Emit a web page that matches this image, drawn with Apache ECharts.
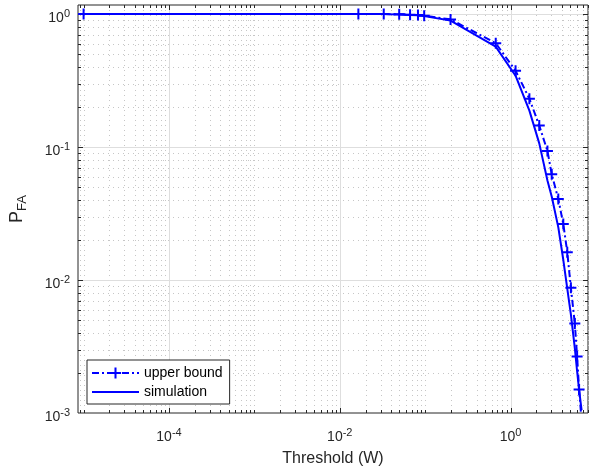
<!DOCTYPE html>
<html><head><meta charset="utf-8">
<script src="https://cdn.jsdelivr.net/npm/echarts@6/dist/echarts.min.js"></script>
<style>html,body{margin:0;padding:0;background:#fff}#c{width:591px;height:473px}</style>
</head><body><div id="c"></div>
<script>
// ---- data ----
const thresholds  = [1e-5, 0.0165, 0.0327, 0.0496, 0.0665, 0.0823, 0.0973, 0.198, 0.670, 1.143, 1.66, 2.166, 2.70, 3.03, 3.62, 4.14, 4.61, 5.08, 5.65, 6.01, 6.34, 6.78];
const upperBound  = [1.0, 1.0, 1.0, 0.995, 0.988, 0.983, 0.971, 0.912, 0.604, 0.375, 0.231, 0.145, 0.0935, 0.0625, 0.0406, 0.0264, 0.0162, 0.00873, 0.00472, 0.00266, 0.0015, 0.00088];
const simulation  = [1.0, 1.0, 0.999, 0.993, 0.985, 0.978, 0.965, 0.894, 0.569, 0.344, 0.188, 0.1066, 0.0561, 0.0425, 0.0249, 0.0142, 0.00862, 0.00551, 0.00307, 0.00206, 0.00149, 0.00105];
const seriesNames = ['upper bound', 'simulation'];
const xTickExponents = [-4, -2, 0];
const yTickExponents = [-3, -2, -1, 0];
const xRange = [8.6e-6, 8.06];
const yRange = [1e-3, 1.17];
const xLabel = 'Threshold (W)';

const FONT = 'Liberation Sans, Arial, Helvetica, sans-serif';
const AX = '#262626';
const BLUE = '#0000ff';
const plusPath = 'path://M4.5,0H6.5V11H4.5Z M0,4.5H11V6.5H0Z';

function expLabel(v, list) {
  const e = Math.log10(v), r = Math.round(e);
  if (Math.abs(e - r) > 1e-6 || list.indexOf(r) < 0) return '';
  return '{b|10}{s|' + r + '}';
}
// log-grid positions (k * 10^e) inside a range
function logGrid(range, majorTest) {
  const out = [];
  for (let e = Math.floor(Math.log10(range[0])); e <= Math.ceil(Math.log10(range[1])); e++) {
    for (let k = 1; k <= 9; k++) {
      const v = k * Math.pow(10, e);
      if (v > range[0] * 1.0005 && v < range[1] / 1.0005) out.push([v, (k === 1 && majorTest(e)) ? 1 : 0]);
    }
  }
  return out;
}
const xGrid = logGrid(xRange, e => xTickExponents.indexOf(e) >= 0);
const yGrid = logGrid(yRange, e => yTickExponents.indexOf(e) >= 0);
const yMid = 0.1, xMid = 0.01;

const labelRich = {
  b: { fontSize: 14, lineHeight: 17, verticalAlign: 'bottom', color: AX, fontFamily: FONT },
  s: { fontSize: 11, lineHeight: 7, verticalAlign: 'top', color: AX, fontFamily: FONT }
};
const minorStyle = { stroke: '#c6c6c6', lineWidth: 1, lineDash: [1, 4] };
const majorStyle = { stroke: '#dedede', lineWidth: 1 };

function px(v) { return Math.round(v) + 0.5; }

const chart = echarts.init(document.getElementById('c'), null, { renderer: 'canvas' });
chart.setOption({
  animation: false,
  backgroundColor: '#fff',
  grid: { left: 74, right: 1, top: 5, bottom: 57, show: true, borderColor: AX, borderWidth: 1, backgroundColor: 'transparent' },
  xAxis: {
    type: 'log', logBase: 10, min: xRange[0], max: xRange[1],
    axisLine: { show: false }, axisTick: { show: false }, splitLine: { show: false },
    axisLabel: { margin: 14, formatter: v => expLabel(v, xTickExponents), rich: labelRich, showMinLabel: true, showMaxLabel: true, hideOverlap: false },
    name: xLabel, nameLocation: 'middle', nameGap: 36,
    nameTextStyle: { fontSize: 16, lineHeight: 19, color: AX, fontFamily: FONT }
  },
  yAxis: {
    type: 'log', logBase: 10, min: yRange[0], max: yRange[1],
    axisLine: { show: false }, axisTick: { show: false }, splitLine: { show: false },
    axisLabel: { margin: 8, padding: [6, 0, 0, 0], formatter: v => expLabel(v, yTickExponents), rich: labelRich, hideOverlap: false },
    name: '{p|P}{s|FA}', nameLocation: 'middle', nameRotate: 90, nameGap: 49,
    nameTextStyle: {
      color: AX, fontFamily: FONT,
      rich: {
        p: { fontSize: 18, lineHeight: 21, verticalAlign: 'top', color: AX, fontFamily: FONT },
        s: { fontSize: 13, lineHeight: 13, verticalAlign: 'bottom', color: AX, fontFamily: FONT }
      }
    }
  },
  legend: {
    data: [{ name: seriesNames[0] }, { name: seriesNames[1], itemStyle: { opacity: 0 } }],
    orient: 'vertical', left: 87, top: 360,
    itemWidth: 47, itemHeight: 14, itemGap: 5, padding: [6, 7, 5, 4],
    backgroundColor: '#fff', borderColor: AX, borderWidth: 1, borderRadius: 0,
    textStyle: { fontSize: 14, lineHeight: 14, color: '#000', fontFamily: FONT },
    selectedMode: false
  },
  series: [
    {
      type: 'custom', name: 'xgrid', silent: true, z: 1, clip: false,
      data: xGrid.map(g => [g[0], yMid, g[1]]),
      encode: { x: 0, y: 1 },
      renderItem: function (params, api) {
        const cs = params.coordSys;
        const major = api.value(2) === 1;
        const x = px(api.coord([api.value(0), yMid])[0]);
        const len = major ? 5 : 3;
        const top = cs.y, bot = cs.y + cs.height;
        return { type: 'group', children: [
          { type: 'line', shape: { x1: x, y1: top, x2: x, y2: bot }, style: major ? majorStyle : minorStyle },
          { type: 'line', shape: { x1: x, y1: bot, x2: x, y2: bot - len }, style: { stroke: AX, lineWidth: 1 } },
          { type: 'line', shape: { x1: x, y1: top, x2: x, y2: top + len }, style: { stroke: AX, lineWidth: 1 } }
        ] };
      }
    },
    {
      type: 'custom', name: 'ygrid', silent: true, z: 1, clip: false,
      data: yGrid.map(g => [xMid, g[0], g[1]]),
      encode: { x: 0, y: 1 },
      renderItem: function (params, api) {
        const cs = params.coordSys;
        const major = api.value(2) === 1;
        const y = px(api.coord([xMid, api.value(1)])[1]);
        const len = major ? 5 : 3;
        const l = cs.x, r = cs.x + cs.width;
        return { type: 'group', children: [
          { type: 'line', shape: { x1: l, y1: y, x2: r, y2: y }, style: major ? majorStyle : minorStyle },
          { type: 'line', shape: { x1: l, y1: y, x2: l + len, y2: y }, style: { stroke: AX, lineWidth: 1 } },
          { type: 'line', shape: { x1: r, y1: y, x2: r - len, y2: y }, style: { stroke: AX, lineWidth: 1 } }
        ] };
      }
    },
    {
      name: seriesNames[0], type: 'line', z: 3,
      data: thresholds.map((t, i) => [t, upperBound[i]]),
      symbol: plusPath, symbolSize: 11, showSymbol: true,
      itemStyle: { color: BLUE },
      lineStyle: { color: BLUE, width: 2, type: [7, 3, 2, 3] },
      clip: true
    },
    {
      name: seriesNames[1], type: 'line', z: 4,
      data: thresholds.map((t, i) => [t, simulation[i]]),
      symbol: 'none',
      itemStyle: { color: BLUE },
      lineStyle: { color: BLUE, width: 2 },
      clip: true
    }
  ]
});
</script>
</body></html>
